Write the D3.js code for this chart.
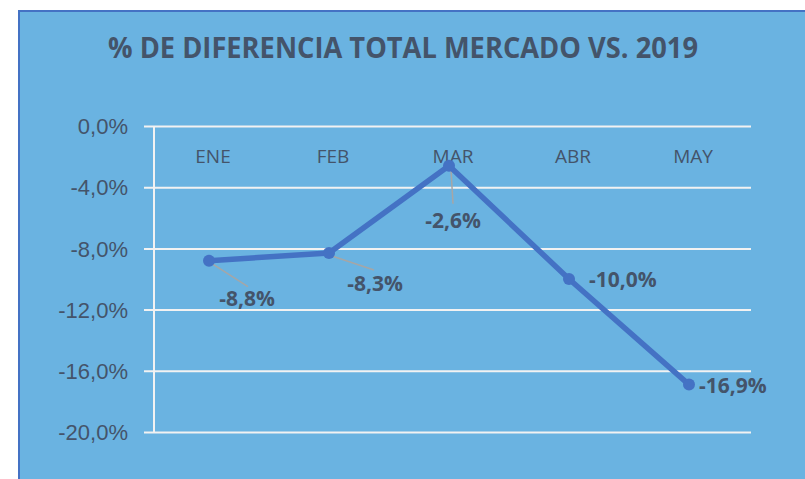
<!DOCTYPE html>
<html>
<head>
<meta charset="utf-8">
<script src="https://cdn.jsdelivr.net/npm/d3@7"></script>
<style>
  body { margin: 0; background: #fff; }
  svg { display: block; font-family: "Open Sans", "Noto Sans", sans-serif; }
</style>
</head>
<body>
<div id="chart"></div>
<script>
// chart data
var months = ['ENE', 'FEB', 'MAR', 'ABR', 'MAY'];
var values = [-8.8, -8.3, -2.6, -10.0, -16.9];
var yTicks = [0, -4, -8, -12, -16, -20];
var title = '% DE DIFERENCIA TOTAL MERCADO VS. 2019';

var w = 805
  , h = 479
  , bg = '#6ab3e1'
  , textColor = '#44546a'
  , lineColor = '#4472c4';

// excel style: comma decimal, plain hyphen
var pct = function (d) {
  return d3.format('.1f')(d).replace('.', ',').replace('\u2212', '-') + '%';
};

var svg = d3.select('#chart')
  .append('svg')
  .attr('width', w)
  .attr('height', h);

// chart area with blue border on top/left
svg.append('rect')
  .attr('x', 19)
  .attr('y', 11)
  .attr('width', w - 19 + 5)
  .attr('height', h - 11 + 5)
  .attr('fill', bg)
  .attr('stroke', lineColor)
  .attr('stroke-width', 2);

svg.append('text')
  .attr('x', 108)
  .attr('y', 58)
  .attr('textLength', 590)
  .attr('lengthAdjust', 'spacingAndGlyphs')
  .attr('font-size', 28)
  .attr('font-weight', 'bold')
  .attr('fill', textColor)
  .text(title);

var x = d3.scalePoint()
  .domain(months)
  .range([209, 689]);

var y = d3.scaleLinear()
  .domain([-20, 0])
  .range([432, 126]);

// gridlines + y labels
var yAxis = d3.axisLeft(y)
  .tickValues(yTicks)
  .tickSize(-(751 - 144))
  .tickPadding(16)
  .tickFormat(pct);

var gy = svg.append('g')
  .attr('transform', 'translate(144,0)')
  .call(yAxis);

gy.select('.domain').remove();
gy.selectAll('.tick line')
  .attr('stroke', '#f2f2f2')
  .attr('stroke-width', 2);
gy.selectAll('.tick text')
  .attr('fill', textColor)
  .attr('font-size', 22)
  .attr('x', -16)
  .attr('dy', '0.35em');

// vertical axis line
svg.append('line')
  .attr('x1', 154)
  .attr('x2', 154)
  .attr('y1', y(0))
  .attr('y2', y(-20))
  .attr('stroke', '#f2f2f2')
  .attr('stroke-width', 2);

// category labels (sit near the top, axis at zero)
svg.selectAll('text.cat')
  .data(months)
  .enter()
  .append('text')
  .attr('class', 'cat')
  .attr('x', function (d) { return x(d) + 4; })
  .attr('y', 163)
  .attr('text-anchor', 'middle')
  .attr('font-size', 19)
  .attr('fill', textColor)
  .text(function (d) { return d; });

// leader lines and label offsets (layout only)
var labelPos = {
  ENE: { dx: 38, dy: 45, lead: [3, 3, 39, 26] },
  FEB: { dx: 46, dy: 38, lead: [3, 3, 45, 17] },
  MAR: { dx: 4, dy: 62, lead: [2, 4, 4, 38] },
  ABR: { dx: 20, dy: 8, anchor: 'start' },
  MAY: { dx: 10, dy: 8, anchor: 'start' }
};

svg.selectAll('line.lead')
  .data(months.filter(function (m) { return labelPos[m].lead; }))
  .enter()
  .append('line')
  .attr('class', 'lead')
  .attr('x1', function (d) { return x(d) + labelPos[d].lead[0]; })
  .attr('y1', function (d) { return y(values[months.indexOf(d)]) + labelPos[d].lead[1]; })
  .attr('x2', function (d) { return x(d) + labelPos[d].lead[2]; })
  .attr('y2', function (d) { return y(values[months.indexOf(d)]) + labelPos[d].lead[3]; })
  .attr('stroke', '#a6a6a6')
  .attr('stroke-width', 1.5);

var line = d3.line()
  .x(function (d, i) { return x(months[i]); })
  .y(function (d) { return y(d); });

svg.append('path')
  .datum(values)
  .attr('d', line)
  .attr('fill', 'none')
  .attr('stroke', lineColor)
  .attr('stroke-width', 5.5)
  .attr('stroke-linejoin', 'round');

svg.selectAll('circle.pt')
  .data(values)
  .enter()
  .append('circle')
  .attr('class', 'pt')
  .attr('cx', function (d, i) { return x(months[i]); })
  .attr('cy', function (d) { return y(d); })
  .attr('r', 6)
  .attr('fill', lineColor);

svg.selectAll('text.lbl')
  .data(values)
  .enter()
  .append('text')
  .attr('class', 'lbl')
  .attr('x', function (d, i) { return x(months[i]) + labelPos[months[i]].dx; })
  .attr('y', function (d, i) { return y(d) + labelPos[months[i]].dy; })
  .attr('text-anchor', function (d, i) { return labelPos[months[i]].anchor || 'middle'; })
  .attr('font-size', 21)
  .attr('font-weight', 'bold')
  .attr('fill', textColor)
  .text(pct);
</script>
</body>
</html>
